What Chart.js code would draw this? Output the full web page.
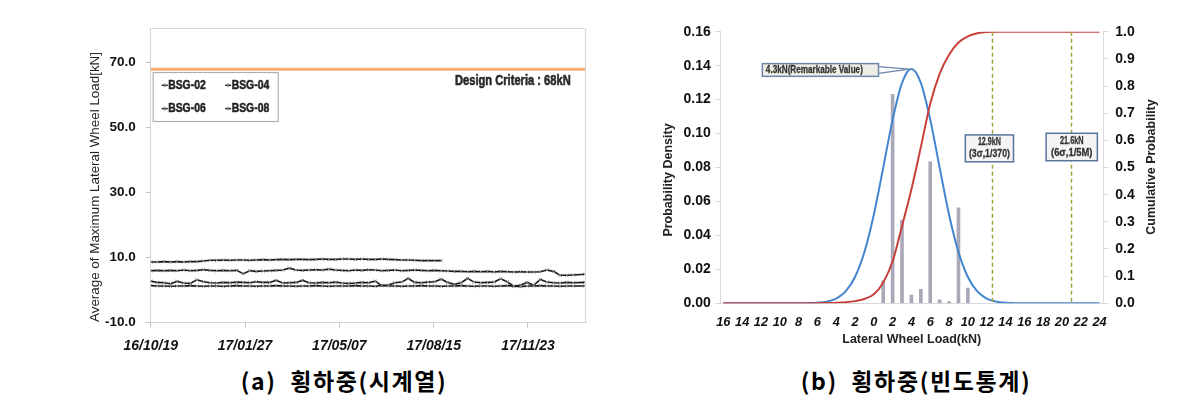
<!DOCTYPE html>
<html>
<head>
<meta charset="utf-8">
<script src="https://cdn.jsdelivr.net/npm/chart.js@4.4.1/dist/chart.umd.min.js"></script>
<style>
  html, body { margin:0; padding:0; background:#fff; width:1199px; height:418px; overflow:hidden; }
  #wrapA { position:absolute; left:0; top:0; width:600px; height:360px; }
  #wrapB { position:absolute; left:600px; top:0; width:599px; height:360px; }
  .cap { position:absolute; top:366px; line-height:28px; font-family:"Noto Sans CJK KR", sans-serif; font-weight:700;
         font-size:23px; letter-spacing:1.6px; color:#000; white-space:nowrap; transform:translateX(-50%); }
</style>
</head>
<body>
<div id="wrapA"><canvas id="cA" width="600" height="360"></canvas></div>
<div id="wrapB"><canvas id="cB" width="599" height="360"></canvas></div>
<div class="cap" style="left:344px">(a)&nbsp; 횡하중(시계열)</div>
<div class="cap" style="left:916px">(b)&nbsp; 횡하중(빈도통계)</div>
<script>
// ---------------- (a) time series data ----------------
const sampleDays = [0,7,14,21,28,35,42,49,56,63,70,77,84,91,98,105,112,119,126,133,140,147,154,161,168,175,182,189,196,203,210,217,224,231,238,245,252,259,266,273,280,287,294,301,308,315,322,329,336,343,350,357,364,371,378,385,392,399,406,413,420,427,434,441,448,460];
const dateTickDays = [0,100,200,300,400];
const dateTickLabels = ['16/10/19','17/01/27','17/05/07','17/08/15','17/11/23'];
const loadTicks = [-10,10,30,50,70];
const seriesNames = ['BSG-02','BSG-04','BSG-06','BSG-08'];
const bsg02 = [8.7,8.7,8.8,8.7,8.8,8.7,8.8,8.8,9.0,9.2,
               9.2,9.3,9.2,9.3,9.3,9.2,9.3,9.4,9.3,9.4,
               9.5,9.4,9.5,9.5,9.4,9.5,9.6,9.5,9.5,9.6,
               9.6,9.5,9.6,9.5,9.5,9.6,9.5,9.4,9.3,9.3,
               9.2,9.1,9.1,9.1,9.1];
const bsg04 = [6.0,6.1,6.0,6.1,6.0,6.2,6.0,6.1,6.3,6.1,
               6.0,6.1,6.0,6.1,5.1,6.0,5.8,5.9,6.0,6.1,
               6.2,6.8,6.2,6.1,6.2,6.3,6.2,6.5,6.2,6.1,
               6.0,6.2,6.1,6.3,6.2,6.0,6.1,6.2,6.0,6.1,
               6.2,6.1,6.0,6.1,6.0,5.9,5.8,5.8,5.7,5.8,
               5.7,5.8,5.6,5.8,5.7,5.6,5.7,5.6,5.6,5.7,
               6.2,5.8,4.6,4.6,4.7,4.9];
const bsg06 = [2.8,2.4,2.3,2.0,2.7,2.2,2.1,3.2,2.6,2.3,
               2.2,2.4,2.3,2.5,2.4,2.3,2.6,2.4,2.4,3.0,
               2.2,2.3,2.4,3.0,2.3,2.2,2.4,2.3,2.5,2.2,
               2.1,2.2,2.4,2.3,2.8,1.4,1.6,2.3,2.5,3.6,
               2.4,2.3,2.5,2.6,3.4,2.4,1.8,2.3,3.6,2.5,
               2.3,2.4,2.5,3.5,2.6,1.2,1.5,2.4,1.5,3.3,
               2.5,2.3,2.2,2.4,2.3,2.4];
const bsg08 = [1.4,1.3,1.3,1.2,1.3,1.3,1.4,1.3,1.2,1.3,
               1.3,1.2,1.3,1.4,1.3,1.3,1.2,1.3,1.3,1.4,
               1.3,1.3,1.2,1.3,1.3,1.4,1.3,1.2,1.3,1.3,
               1.3,1.4,1.3,1.3,1.2,1.5,1.3,1.3,1.2,1.3,
               1.3,1.4,1.3,1.3,1.2,1.3,1.3,1.4,1.3,1.2,
               1.3,1.3,1.2,1.3,1.4,1.3,1.1,1.3,1.3,1.4,
               1.3,1.3,1.2,1.3,1.3,1.3];
const designCriteria = 68;
const designLabel = 'Design Criteria : 68kN';
const yTitleA = 'Average of Maximum Lateral Wheel Load[kN]';

// ---------------- (b) frequency statistics data ----------------
const curveX = [-16,-15,-14,-13,-12,-11,-10,-9,-8,-7,-6,-5,-4,-3,-2,-1,0,1,2,3,4,5,6,7,8,9,10,11,12,13,14,15,16,17,18,19,20,21,22,23,24];
const pdfValues = [0,0,0,0,0,0,0,0,0,0.0001,0.0003,0.001,0.0028,0.007,0.0155,0.0302,0.0522,0.0799,0.1082,0.1299,0.138,0.1299,0.1082,0.0799,0.0522,0.0302,0.0155,0.007,0.0028,0.001,0.0003,0.0001,0,0,0,0,0,0,0,0,0];
const cdfValues = [0,0,0,0,0,0,0,0,0,0,0.0005,0.001,0.002,0.004,0.008,0.016,0.033,0.077,0.155,0.285,0.42,0.575,0.735,0.845,0.915,0.96,0.983,0.994,0.999,1,1,1,1,1,1,1,1,1,1,1,1];
const histX = [1,2,3,4,5,6,7,8,9,10];
const histY = [0.0133,0.1231,0.049,0.0049,0.0082,0.0833,0.002,0.001,0.0562,0.009];
const loadAxisTicks = [-16,-14,-12,-10,-8,-6,-4,-2,0,2,4,6,8,10,12,14,16,18,20,22,24];
const densityTicks = [0,0.02,0.04,0.06,0.08,0.10,0.12,0.14,0.16];
const cumTicks = [0,0.1,0.2,0.3,0.4,0.5,0.6,0.7,0.8,0.9,1.0];
const peakPoint = {x:4.0, y:0.138};
const peakLabel = '4.3kN(Remarkable Value)';
const sigmaLines = [12.6, 21.0];
const sigmaLabels = [['12.9kN','(3σ,1/370)'], ['21.6kN','(6σ,1/5M)']];

const NARROW = '"Liberation Sans Narrow", "Liberation Sans", Arial, sans-serif';
const SANS = '"Liberation Sans", Arial, sans-serif';

// draw text squeezed horizontally to a given width, with optional stroke for weight
function fillTextW(ctx, text, x, y, w, heavy){
  const m = ctx.measureText(text).width;
  const s = m > 0 ? w / m : 1;
  ctx.save();
  ctx.translate(x, y);
  ctx.scale(s, 1);
  ctx.fillText(text, 0, 0);
  if (heavy) {
    ctx.strokeStyle = ctx.fillStyle;
    ctx.lineWidth = heavy;
    ctx.lineJoin = 'round';
    ctx.strokeText(text, 0, 0);
  }
  ctx.restore();
}

// ---------------- chart (a) ----------------
function toPts(arr){ return arr.map((v,i)=>({x:sampleDays[i], y:v})); }
const seriesArrays = [bsg02, bsg04, bsg06, bsg08];

const decorA = {
  id:'decorA',
  afterDraw(chart){
    const {ctx, chartArea:a, scales} = chart;
    const y = scales.y;
    ctx.save();
    // frame
    ctx.strokeStyle = '#d6d6d6'; ctx.lineWidth = 1;
    ctx.beginPath();
    ctx.moveTo(a.left, a.top + 0.5); ctx.lineTo(a.right - 0.5, a.top + 0.5); ctx.lineTo(a.right - 0.5, a.bottom);
    ctx.stroke();
    // design criteria label
    ctx.font = 'bold 14.5px ' + NARROW;
    ctx.fillStyle = '#2a2a2a'; ctx.textAlign = 'left'; ctx.textBaseline = 'middle';
    fillTextW(ctx, designLabel, a.right - 131, y.getPixelForValue(designCriteria) + 11.5, 115.7, 0.6);
    // legend box
    const bx = a.left + 2, by = a.top + 44, bw = 125, bh = 49;
    ctx.fillStyle = '#fff'; ctx.fillRect(bx, by, bw, bh);
    ctx.strokeStyle = '#b0b0b0'; ctx.lineWidth = 1.2;
    ctx.strokeRect(bx + 0.5, by + 0.5, bw, bh);
    ctx.font = 'bold 13px ' + NARROW;
    ctx.textAlign = 'left'; ctx.textBaseline = 'middle';
    chart.data.datasets.forEach((ds) => {
      if (!ds.legendItem) return;
      const k = ds.legendItem - 1;
      const col = k % 2, row = Math.floor(k / 2);
      const lx = bx + 9 + col * 63.5, ly = by + 13.3 + row * 23.3;
      ctx.strokeStyle = '#222'; ctx.lineWidth = 1.5;
      ctx.beginPath(); ctx.moveTo(lx, ly); ctx.lineTo(lx + 6, ly); ctx.stroke();
      ctx.strokeStyle = '#888'; ctx.lineWidth = 1;
      ctx.beginPath(); ctx.moveTo(lx + 3, ly - 2); ctx.lineTo(lx + 3, ly + 2); ctx.stroke();
      ctx.fillStyle = '#222';
      fillTextW(ctx, ds.label, lx + 6.5, ly, 37.5, 0.5);
    });
    // y axis title
    ctx.translate(95, 187);
    ctx.rotate(-Math.PI / 2);
    ctx.font = '12.8px ' + SANS;
    ctx.fillStyle = '#222'; ctx.textAlign = 'left'; ctx.textBaseline = 'middle';
    fillTextW(ctx, yTitleA, -135, 0, 270);
    ctx.restore();
  }
};

const datasetsA = [
  {
    label: 'Design Criteria', type: 'line',
    data: [{x:0, y:designCriteria}, {x:461.5, y:designCriteria}],
    borderColor: '#F5AD70', borderWidth: 3, pointRadius: 0, order: 5
  }
];
seriesArrays.forEach((arr, i) => {
  datasetsA.push({
    label: seriesNames[i], legendItem: i + 1, type: 'line',
    data: toPts(arr),
    borderColor: '#151515', borderWidth: 1.6,
    pointStyle: 'crossRot', pointRadius: 2.2, pointBorderColor: '#8a8a8a', pointBorderWidth: 1,
    pointBackgroundColor: '#8a8a8a', tension: 0, order: i
  });
});

new Chart(document.getElementById('cA'), {
  type: 'line',
  data: { datasets: datasetsA },
  options: {
    responsive: false, maintainAspectRatio: false, animation: false, devicePixelRatio: 1,
    layout: { padding: { left: 0, right: 14, top: 28, bottom: 0 } },
    plugins: { legend: { display: false }, tooltip: { enabled: false } },
    scales: {
      x: {
        type: 'linear', min: 0, max: 461.5, offset: false,
        afterBuildTicks: s => { s.ticks = dateTickDays.map(v => ({value: v})); },
        afterFit: s => { s.height = 37.3; },
        grid: { display: true, drawOnChartArea: false, drawTicks: true, tickLength: 5, color: '#c4c4c4' },
        border: { display: true, color: '#d6d6d6' },
        ticks: {
          autoSkip: false, maxRotation: 0, padding: 10, color: '#111',
          font: { family: SANS, size: 14, style: 'italic', weight: 'bold' },
          callback: v => { const k = dateTickDays.indexOf(v); return k >= 0 ? dateTickLabels[k] : ''; }
        }
      },
      y: {
        type: 'linear', min: -10, max: 80.7,
        afterBuildTicks: s => { s.ticks = loadTicks.map(v => ({value: v})); },
        afterFit: s => { s.width = 150.7; },
        grid: { display: true, drawOnChartArea: false, drawTicks: true, tickLength: 5, color: '#c4c4c4' },
        border: { display: true, color: '#d6d6d6' },
        ticks: {
          padding: 10, color: '#111',
          font: { family: SANS, size: 13.5, weight: 'bold' },
          callback: v => Number(v).toFixed(1)
        }
      }
    }
  },
  plugins: [decorA]
});

// ---------------- chart (b) ----------------
const decorB = {
  id: 'decorB',
  afterDatasetsDraw(chart){
    const {ctx, chartArea:a, scales} = chart;
    const x = scales.x, y = scales.y, y2 = scales.y2;
    ctx.save();
    // sigma dashed lines
    ctx.strokeStyle = '#a3a33c'; ctx.lineWidth = 1.5; ctx.setLineDash([4, 3]);
    sigmaLines.forEach(v => {
      const px = Math.round(x.getPixelForValue(v)) + 0.5;
      ctx.beginPath(); ctx.moveTo(px, a.top); ctx.lineTo(px, a.bottom); ctx.stroke();
    });
    ctx.setLineDash([]);
    // sigma boxes
    const boxes = [
      {x0: 9.73, x1: 14.85, y0: 0.62, y1: 0.521, w: [23, 41]},
      {x0: 18.32, x1: 23.77, y0: 0.626, y1: 0.525, w: [23.5, 41.5]}
    ];
    boxes.forEach((b, i) => {
      const l = x.getPixelForValue(b.x0), r = x.getPixelForValue(b.x1);
      const t = y2.getPixelForValue(b.y0), btm = y2.getPixelForValue(b.y1);
      ctx.fillStyle = '#f4f4f4'; ctx.fillRect(l, t, r - l, btm - t);
      ctx.strokeStyle = '#56739e'; ctx.lineWidth = 1.5; ctx.strokeRect(l, t, r - l, btm - t);
      ctx.fillStyle = '#333'; ctx.font = 'bold 10.5px ' + NARROW;
      ctx.textAlign = 'left'; ctx.textBaseline = 'middle';
      const cx = (l + r) / 2, cy = (t + btm) / 2;
      fillTextW(ctx, sigmaLabels[i][0], cx - b.w[0] / 2, cy - 6, b.w[0], 0.3);
      fillTextW(ctx, sigmaLabels[i][1], cx - b.w[1] / 2, cy + 6, b.w[1], 0.3);
    });
    // callout
    const cl = x.getPixelForValue(-11.85), cr = x.getPixelForValue(0.5);
    const ct = y.getPixelForValue(0.1412), cb = y.getPixelForValue(0.1337);
    const px = x.getPixelForValue(peakPoint.x), py = y.getPixelForValue(peakPoint.y);
    ctx.strokeStyle = '#6d86ab'; ctx.lineWidth = 1.2;
    ctx.beginPath(); ctx.moveTo(cr, ct + 3); ctx.lineTo(px - 2, py); ctx.lineTo(cr, cb - 3); ctx.stroke();
    ctx.fillStyle = '#efeee6'; ctx.fillRect(cl, ct, cr - cl, cb - ct);
    ctx.strokeStyle = '#6d86ab'; ctx.lineWidth = 1.5; ctx.strokeRect(cl, ct, cr - cl, cb - ct);
    ctx.fillStyle = '#333'; ctx.font = 'bold 10px ' + NARROW;
    ctx.textAlign = 'left'; ctx.textBaseline = 'middle';
    fillTextW(ctx, peakLabel, cl + 3.5, (ct + cb) / 2 + 0.5, 97, 0.3);
    ctx.restore();
  },
  afterDraw(chart){
    const {ctx} = chart;
    ctx.save();
    ctx.fillStyle = '#222'; ctx.font = 'bold 12.5px ' + SANS;
    ctx.textAlign = 'center'; ctx.textBaseline = 'middle';
    ctx.fillText('Lateral Wheel Load(kN)', 311.7, 340);
    ctx.save(); ctx.translate(69, 180); ctx.rotate(-Math.PI / 2); ctx.fillText('Probability Density', 0, 0); ctx.restore();
    ctx.save(); ctx.translate(551.7, 167); ctx.rotate(-Math.PI / 2); ctx.fillText('Cumulative Probability', 0, 0); ctx.restore();
    ctx.restore();
  }
};

new Chart(document.getElementById('cB'), {
  type: 'line',
  data: {
    datasets: [
      {
        label: 'Cumulative Probability', type: 'line', yAxisID: 'y2',
        data: curveX.map((v, i) => ({x: v, y: cdfValues[i]})),
        borderColor: '#c9403b', borderWidth: 2, pointRadius: 0, cubicInterpolationMode: 'monotone', order: 0
      },
      {
        label: 'Probability Density', type: 'line', yAxisID: 'y',
        data: curveX.map((v, i) => ({x: v, y: pdfValues[i]})),
        borderColor: '#4285d0', borderWidth: 2, pointRadius: 0, cubicInterpolationMode: 'monotone', order: 1
      },
      {
        label: 'Frequency', type: 'bar', yAxisID: 'y',
        data: histX.map((v, i) => ({x: v, y: histY[i]})),
        backgroundColor: '#a9a9ba', borderWidth: 0, barThickness: 3, order: 2
      }
    ]
  },
  options: {
    responsive: false, maintainAspectRatio: false, animation: false, devicePixelRatio: 1,
    layout: { padding: { left: 0, right: 0, top: 31.7, bottom: 0 } },
    plugins: { legend: { display: false }, tooltip: { enabled: false } },
    scales: {
      x: {
        type: 'linear', min: -16.28, max: 24.4, offset: false,
        afterBuildTicks: s => { s.ticks = loadAxisTicks.map(v => ({value: v})); },
        afterFit: s => { s.height = 56.7; },
        grid: { display: true, drawOnChartArea: false, drawTicks: false, color: '#d9d9d9' },
        border: { display: true, color: '#d9d9d9' },
        ticks: {
          autoSkip: false, maxRotation: 0, padding: 11, color: '#111',
          font: { family: SANS, size: 12.8, style: 'italic', weight: 'bold' },
          callback: v => String(Math.abs(v))
        }
      },
      y: {
        type: 'linear', position: 'left', min: 0, max: 0.16,
        afterBuildTicks: s => { s.ticks = densityTicks.map(v => ({value: v})); },
        afterFit: s => { s.width = 120.7; },
        grid: { display: true, drawOnChartArea: false, drawTicks: true, tickLength: 5, color: '#d9d9d9' },
        border: { display: true, color: '#d9d9d9' },
        ticks: { padding: 5, color: '#111', font: { family: SANS, size: 14, weight: 'bold' }, callback: v => Number(v).toFixed(2) }
      },
      y2: {
        type: 'linear', position: 'right', min: 0, max: 1,
        afterBuildTicks: s => { s.ticks = cumTicks.map(v => ({value: v})); },
        afterFit: s => { s.width = 95.7; },
        grid: { display: true, drawOnChartArea: false, drawTicks: true, tickLength: 5, color: '#d9d9d9' },
        border: { display: true, color: '#d9d9d9' },
        ticks: { padding: 7, color: '#111', font: { family: SANS, size: 14, weight: 'bold' }, callback: v => Number(v).toFixed(1) }
      }
    }
  },
  plugins: [decorB]
});
</script>
</body>
</html>
